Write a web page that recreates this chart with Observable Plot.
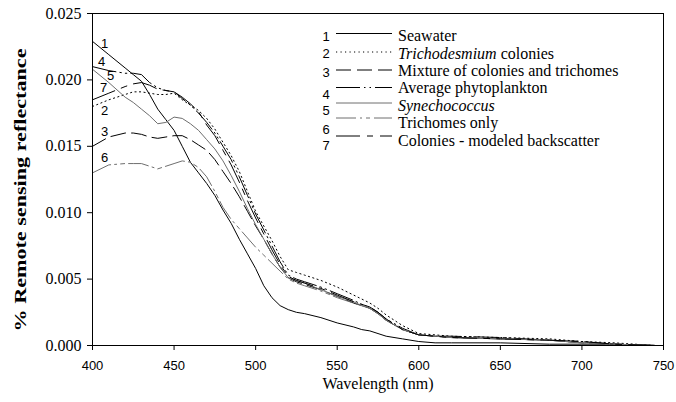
<!DOCTYPE html>
<html>
<head>
<meta charset="utf-8">
<script src="https://cdn.jsdelivr.net/npm/d3@7"></script>
<script src="https://cdn.jsdelivr.net/npm/@observablehq/plot@0.6"></script>
<style>
  html, body { margin: 0; padding: 0; background: #fff; }
  #chart { width: 676px; height: 402px; }
</style>
</head>
<body>
<div id="chart"></div>
<script>
// ---------- data ----------
const wavelengths = [400,410,420,425,430,435,440,445,450,455,460,465,470,475,480,485,490,495,500,505,510,515,520,525,530,540,550,560,565,570,575,580,590,600,610,620,650,680,700,720,745];

const seawater = [.0229,.0219,.0209,.0204,.0199,.0189,.0178,.0170,.0162,.0150,.0138,.0130,.0122,.0113,.0102,.0092,.0080,.0069,.0058,.0045,.0036,.0030,.0027,.0025,.0024,.0021,.0017,.0014,.0012,.0011,.0009,.0007,.0005,.0003,.0002,.0002,.0002,.0001,.0001,.0001,.0000];
const trichoColonies = [.0180,.0185,.0189,.0191,.0191,.0190,.0189,.0189,.0190,.0185,.0181,.0177,.0171,.0163,.0153,.0143,.0131,.0116,.0101,.0090,.0079,.0067,.0057,.0055,.0053,.0049,.0044,.0038,.0035,.0032,.0028,.0023,.0015,.0009,.0008,.0007,.0006,.0005,.0003,.0002,.0000];
const mixture = [.0150,.0157,.0160,.0160,.0159,.0157,.0156,.0157,.0158,.0158,.0155,.0151,.0147,.0140,.0131,.0122,.0112,.0101,.0090,.0080,.0069,.0059,.0051,.0048,.0046,.0042,.0037,.0032,.0030,.0028,.0024,.0019,.0012,.0008,.0007,.0006,.0005,.0004,.0002,.0001,.0000];
const avgPhyto = [.0210,.0207,.0205,.0205,.0204,.0198,.0194,.0192,.0191,.0186,.0181,.0175,.0168,.0160,.0150,.0140,.0127,.0113,.0099,.0087,.0075,.0063,.0053,.0050,.0048,.0044,.0039,.0034,.0031,.0029,.0025,.0020,.0013,.0008,.0007,.0007,.0006,.0004,.0003,.0001,.0000];
const synecho = [.0208,.0198,.0187,.0183,.0178,.0173,.0167,.0168,.0172,.0171,.0167,.0162,.0155,.0148,.0139,.0128,.0116,.0103,.0091,.0080,.0069,.0059,.0051,.0049,.0047,.0042,.0037,.0033,.0030,.0028,.0024,.0019,.0012,.0008,.0007,.0006,.0005,.0004,.0002,.0001,.0000];
const trichomesOnly = [.0130,.0136,.0137,.0137,.0137,.0135,.0133,.0135,.0137,.0139,.0138,.0134,.0127,.0116,.0104,.0095,.0088,.0081,.0074,.0068,.0062,.0056,.0050,.0047,.0045,.0041,.0036,.0032,.0030,.0028,.0024,.0019,.0012,.0008,.0007,.0006,.0005,.0004,.0002,.0001,.0000];
const coloniesModeled = [.0185,.0190,.0195,.0197,.0198,.0196,.0193,.0192,.0191,.0187,.0182,.0176,.0166,.0158,.0147,.0136,.0123,.0109,.0096,.0084,.0072,.0061,.0052,.0049,.0047,.0043,.0038,.0033,.0031,.0029,.0025,.0020,.0012,.0008,.0007,.0006,.0005,.0004,.0003,.0001,.0000];

const seriesNumbers = ["1","2","3","4","5","6","7"];
const seriesNames = ["Seawater","Trichodesmium colonies","Mixture of colonies and trichomes","Average phytoplankton","Synechococcus","Trichomes only","Colonies - modeled backscatter"];
const seriesValues = [seawater, trichoColonies, mixture, avgPhyto, synecho, trichomesOnly, coloniesModeled];

const xTicks = [400,450,500,550,600,650,700,750];
const yTicks = [0,0.005,0.010,0.015,0.020,0.025];

// ---------- styles ----------
const SERIF = "'Liberation Serif','Times New Roman',Times,serif";
const SANS = "'Liberation Sans',Arial,Helvetica,sans-serif";
const styles = [
  {stroke: "#000", dash: null},
  {stroke: "#000", dash: "1.2,3.3"},
  {stroke: "#000", dash: "15,6"},
  {stroke: "#000", dash: "24,4,1.5,4,1.5,4"},
  {stroke: "#6e6e6e", dash: null},
  {stroke: "#6e6e6e", dash: "20,4,2,4,4,4"},
  {stroke: "#000", dash: "24,7,6,7"}
];
// curve number labels near start (order of series): dx, dy
const curveLabelOffsets = [[12,2],[12,4],[12,-14],[9,-5],[18,7],[12,-15],[11,-12]];

const rows = seriesNumbers.map((k, i) => seriesValues[i].map((v, j) => ({wl: wavelengths[j], v, k})));

const lineMarks = rows.map((r, i) => Plot.line(r, {
  x: "wl", y: "v", stroke: styles[i].stroke, strokeWidth: 1,
  strokeDasharray: styles[i].dash || undefined, curve: "linear"
}));

const labelMarks = seriesNumbers.map((k, i) => Plot.text([{wl: wavelengths[0], v: seriesValues[i][0], k}], {
  x: "wl", y: "v", text: "k", dx: curveLabelOffsets[i][0], dy: curveLabelOffsets[i][1],
  fontFamily: SANS, fontSize: 13, fill: "#000"
}));

const chart = Plot.plot({
  width: 676, height: 402,
  marginLeft: 92, marginRight: 13, marginTop: 13, marginBottom: 57,
  style: {background: "#fff", color: "#000", overflow: "visible"},
  x: {domain: [400, 750]},
  y: {domain: [0, 0.025]},
  marks: [
    Plot.axisX({ticks: xTicks, tickSize: 5, tickPadding: 10, tickFormat: d => String(d), label: null,
      fontFamily: SANS, fontSize: 13}),
    Plot.axisY({ticks: yTicks, tickSize: 5, tickPadding: 6, tickFormat: d3.format(".3f"), label: null,
      fontFamily: SERIF, fontSize: 16}),
    ...lineMarks,
    ...labelMarks,
    Plot.frame({stroke: "#000", strokeWidth: 1}),
    Plot.text(["Wavelength (nm)"], {text: d => d, frameAnchor: "bottom", dy: 43, fontFamily: SERIF, fontSize: 16}),
    Plot.text(["% Remote sensing reflectance"], {text: d => d, frameAnchor: "left", rotate: -90, dx: -72, dy: 152,
      textAnchor: "start", fontFamily: SERIF, fontSize: 17, fontWeight: "bold"})
  ]
});
document.getElementById("chart").appendChild(chart);

const svg = d3.select(chart);
svg.selectAll('g[aria-label="y-axis tick label"]').attr("font-family", SERIF).attr("font-size", 16);
svg.selectAll('g[aria-label="x-axis tick label"]').attr("font-family", SANS).attr("font-size", 13);
svg.selectAll("text").filter(function(){ return this.textContent === "Wavelength (nm)"; })
  .attr("font-family", SERIF).attr("font-size", 16);
svg.selectAll("text").filter(function(){ return this.textContent === "% Remote sensing reflectance"; })
  .attr("font-family", SERIF).attr("font-weight", "bold")
  .attr("textLength", 283).attr("lengthAdjust", "spacingAndGlyphs");

// ---------- legend (inside plot, top right) ----------
const legendX = 336, legendLineLen = 56, legendTextX = 398, legendTop = 35, legendStep = 17.5;
const lineDy = [-1.5,-0.5,0,0,-2,-4.5,-4];
const numDy = [1,0.5,2,7,5,6.5,5];
const leg = svg.append("g").attr("class", "legend").attr("text-anchor", "start");
seriesNumbers.forEach((k, i) => {
  const ty = legendTop + i * legendStep;
  leg.append("text").attr("x", 326).attr("y", ty + numDy[i]).attr("text-anchor", "middle")
    .attr("dominant-baseline", "central").attr("font-family", SANS).attr("font-size", 13).text(k);
  leg.append("line").attr("x1", legendX).attr("x2", legendX + legendLineLen)
    .attr("y1", ty + lineDy[i]).attr("y2", ty + lineDy[i])
    .attr("stroke", styles[i].stroke).attr("stroke-width", 1)
    .attr("stroke-dasharray", styles[i].dash);
  const t = leg.append("text").attr("x", legendTextX).attr("y", ty).attr("dominant-baseline", "central")
    .attr("text-anchor", "start").attr("font-family", SERIF).attr("font-size", 16);
  const name = seriesNames[i];
  if (name.startsWith("Trichodesmium")) {
    t.append("tspan").attr("font-style", "italic").text("Trichodesmium");
    t.append("tspan").text(name.slice("Trichodesmium".length));
  } else if (name === "Synechococcus") {
    t.append("tspan").attr("font-style", "italic").text(name);
  } else {
    t.text(name);
  }
});
</script>
</body>
</html>
